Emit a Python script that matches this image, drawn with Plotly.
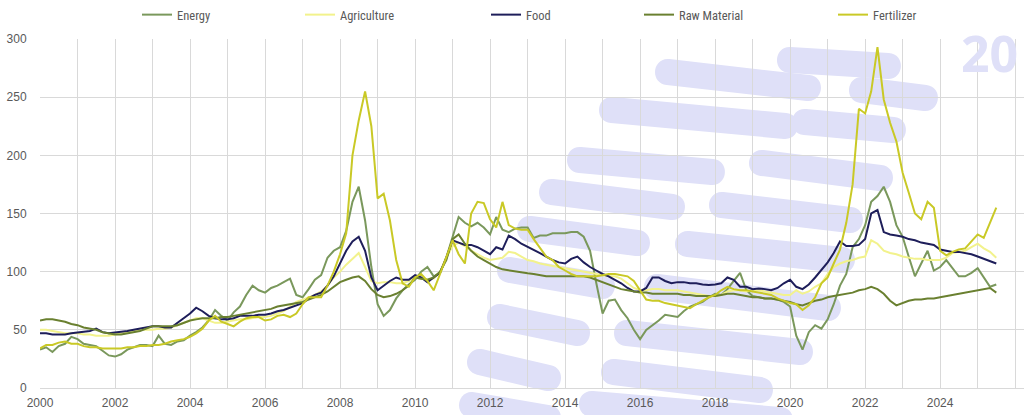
import pandas as pd
import plotly.graph_objects as go

# bimonthly observations, Jan 2000 .. Jul 2025
months = pd.date_range("2000-01-01", "2025-07-01", freq="2MS")

energy = [
    33, 35, 31, 36, 38, 44,
    42, 38, 37, 36, 32, 28,
    27, 29, 33, 35, 37, 37,
    36, 45, 38, 37, 40, 41,
    45, 48, 52, 58, 67, 62,
    58, 65, 70, 80, 88, 84,
    82, 86, 88, 91, 94, 80,
    78, 85, 93, 97, 112, 118,
    121, 135, 160, 173, 144, 104,
    72, 62, 67, 77, 84, 89,
    93, 100, 104, 96, 99, 112,
    130, 147, 142, 139, 142, 138,
    132, 147, 136, 134, 137, 138,
    138, 129, 131, 131, 133, 133,
    133, 134, 134, 130, 118, 90,
    64, 75, 76, 67, 60, 50,
    42, 50, 54, 58, 63, 62,
    61, 66, 70, 72, 74, 78,
    81, 80, 85, 92, 99, 84,
    79, 78, 77, 77, 76, 74,
    70, 45, 33, 48, 54, 51,
    59, 72, 88, 98, 121, 128,
    140, 160, 165, 173, 160, 140,
    130, 113, 96, 107, 118, 101,
    104, 110, 103, 96, 96, 99,
    103, 95, 87, 89,
]

agriculture = [
    50, 50, 49, 48, 47, 47,
    47, 46, 46, 45, 45, 45,
    46, 47, 48, 49, 50, 50,
    50, 51, 51, 52, 54, 56,
    58, 60, 60, 58, 56, 56,
    57, 58, 59, 59, 60, 61,
    61, 62, 64, 66, 70, 74,
    76, 78, 80, 83, 88, 95,
    100, 106, 111, 116, 104, 92,
    90, 91, 91, 90, 90, 92,
    95, 94, 93, 94, 100, 112,
    122, 125, 122, 118, 115, 112,
    110, 111, 112, 117, 116, 113,
    110, 109, 107, 106, 105, 104,
    103, 102, 101, 100, 99, 98,
    97, 96, 96, 94, 90, 86,
    84, 84, 85, 85, 84, 84,
    84, 83, 82, 81, 80, 79,
    79, 80, 83, 84, 84, 83,
    84, 84, 83, 82, 81, 80,
    80, 84, 81, 83, 87, 90,
    98, 104, 107, 109, 110, 112,
    113, 127, 124, 118, 116, 115,
    113, 112, 111, 111, 110, 110,
    110, 112, 116, 117, 118, 121,
    124, 120, 117, 112,
]

food = [
    47, 47, 46, 46, 46, 47,
    47.5, 48, 49, 51, 48, 47,
    47.5, 48, 49, 50, 51, 52,
    53, 53, 52, 52, 56, 60,
    64, 69, 66, 62, 60, 59,
    59, 60, 62, 62, 62, 63,
    63, 64, 66, 67, 69, 71,
    73, 77, 80, 82, 88, 96,
    107, 118, 126, 130, 118, 95,
    84, 88, 92, 95, 93, 93,
    97, 95, 91, 95, 99, 112,
    127, 125, 123, 123, 121, 118,
    115, 121, 119, 131, 128, 124,
    121.5, 119, 116, 113, 110, 108,
    107, 111, 113, 108, 104, 101,
    98, 96, 93, 90, 86, 83,
    83, 86, 95, 95, 92, 90,
    91, 91, 90, 90, 89, 88.6,
    89, 90, 95, 93, 87, 87,
    85, 85.6, 85, 84, 86, 90,
    93, 87, 85, 89, 95, 102,
    108, 116, 126, 122, 122, 123,
    128, 150, 153, 134, 132, 131,
    130, 128, 127, 125, 124, 123,
    119, 118, 117, 117, 116, 115,
    113, 111, 108.6, 107,
]

raw_material = [
    58, 59, 59, 58, 57, 55,
    54, 52, 51, 50, 48, 47,
    46, 46, 47, 48, 49, 51,
    53, 53, 53, 53, 54, 56,
    58, 59, 60, 60, 60, 61,
    61, 62, 63, 64, 65, 66,
    67, 68, 70, 71, 72, 73,
    74, 76, 78, 80, 83, 87,
    91, 93, 95, 96, 92, 85,
    80, 78, 79, 81, 84, 88,
    95, 94, 93, 95, 100, 110,
    128, 132, 124, 118, 113, 110,
    107, 104, 102, 101, 100, 99,
    98.6, 98, 97, 96, 96, 96,
    96, 96, 96, 96, 95, 93,
    91, 89, 87, 85, 84, 83,
    82, 82, 81, 81, 81, 81,
    81, 80, 80, 79, 79, 79,
    79, 80, 81, 81, 80, 79,
    78, 78, 77, 77, 76, 75,
    74, 72, 71, 73, 75, 76,
    78, 79, 80, 81, 82, 84,
    85, 87, 85, 81, 75, 71,
    73, 75, 76, 76, 77, 77,
    78, 79, 80, 81, 82, 83,
    84, 85, 86, 82,
]

fertilizer = [
    34, 37, 37, 39, 40, 38,
    38, 36, 35, 35, 34, 34,
    34, 34, 35, 35, 36, 36,
    37, 37, 38, 40, 41, 42,
    44, 47, 51, 58, 62, 57,
    55, 53, 57, 60, 61, 61,
    58, 59, 62, 63, 61, 64,
    72, 78, 78, 78, 88, 100,
    115, 133, 200, 230, 255, 225,
    163, 167, 144, 110, 90, 87,
    95, 98, 92, 84, 98, 112,
    127, 115, 107, 150, 160, 159,
    145, 138, 160, 140, 137, 136,
    136, 128, 120, 113, 110, 104,
    101, 98, 96, 96, 96, 96,
    97, 98, 98, 97, 96, 92,
    84, 76, 75, 75, 73, 72,
    71, 70, 68.5, 72, 75, 78,
    80, 84, 87, 85, 84, 84,
    83, 82, 81, 80, 77, 75,
    73, 72, 67, 71, 78, 90,
    95, 107, 119, 142, 175, 240,
    236, 255, 293, 248, 228, 212,
    185, 168, 150, 145, 160, 155,
    118, 114, 117, 119, 120, 126,
    132, 129, 142, 155,
]

series = [
    ("Energy", energy, "#7a985c", "legend"),
    ("Agriculture", agriculture, "#f2f28c", "legend2"),
    ("Food", food, "#1e1e5a", "legend3"),
    ("Raw Material", raw_material, "#6a8030", "legend4"),
    ("Fertilizer", fertilizer, "#c9c926", "legend5"),
]

GRID = "#d9d9d9"
TXT = "#595959"
WM = "#dfe0f8"
LEGFONT = dict(family="Liberation Sans Narrow, Roboto Condensed, Liberation Sans, sans-serif",
               size=12.5, color=TXT)

# plot area in pixels (for the decorative watermark only)
PL, PW, PB, PH = 40, 984, 388, 349

# background watermark: rounded slanted bars (pixel centre-lines) - decoration only
wm_bars = [
    (668, 72, 808, 88), (790, 60, 888, 66), (862, 90, 925, 98),
    (612, 110, 785, 126), (805, 122, 893, 130),
    (580, 160, 712, 172), (762, 163, 880, 178),
    (552, 192, 672, 207), (722, 205, 850, 220),
    (530, 229, 637, 243), (688, 244, 842, 260),
    (510, 270, 602, 286), (657, 287, 828, 308),
    (500, 317, 577, 333), (627, 333, 800, 352),
    (480, 362, 548, 378), (614, 372, 760, 390),
    (472, 405, 548, 418), (592, 404, 780, 420),
]


def bar_path(x1, y1, x2, y2, h=13):
    import math
    dx, dy = x2 - x1, y2 - y1
    L = math.hypot(dx, dy)
    ux, uy = dx / L, dy / L
    nx, ny = -uy, ux
    k = 1.33 * h

    def p(px, py):
        return f"{(px - PL) / PW:.5f},{(PB - py) / PH:.5f}"

    a = (x1 + nx * h, y1 + ny * h)
    b = (x2 + nx * h, y2 + ny * h)
    c = (x2 - nx * h, y2 - ny * h)
    d = (x1 - nx * h, y1 - ny * h)
    s = f"M{p(*a)} L{p(*b)} "
    s += f"C{p(b[0] + ux * k, b[1] + uy * k)} {p(c[0] + ux * k, c[1] + uy * k)} {p(*c)} "
    s += f"L{p(*d)} "
    s += f"C{p(d[0] - ux * k, d[1] - uy * k)} {p(a[0] - ux * k, a[1] - uy * k)} {p(*a)} Z"
    return s


shapes = [dict(type="path", xref="paper", yref="paper", path=bar_path(*b),
               fillcolor=WM, line=dict(width=0), layer="below") for b in wm_bars]

fig = go.Figure()
for name, vals, color, leg in series:
    fig.add_trace(go.Scatter(x=months, y=vals, mode="lines", name=name,
                             line=dict(color=color, width=2), legend=leg))

# legend text starts (px): 177, 340, 526, 679, 873
text_starts = [177, 340, 526, 679, 873]
leg_layout = {}
for i, ts in enumerate(text_starts):
    key = "legend" if i == 0 else f"legend{i+1}"
    leg_layout[key] = dict(x=(ts - 40 - PL) / PW, xanchor="left", y=1 + (39 - 15) / PH,
                           yanchor="middle", orientation="h", font=LEGFONT,
                           bgcolor="rgba(0,0,0,0)", itemwidth=30)

fig.update_layout(
    width=1024, height=415,
    margin=dict(l=40, r=0, t=39, b=27, autoexpand=False),
    paper_bgcolor="white", plot_bgcolor="white",
    font=dict(family="Liberation Sans, Arial, sans-serif", size=12, color=TXT),
    showlegend=True,
    shapes=shapes,
    annotations=[dict(text="<b>20</b>", xref="paper", yref="paper",
                      x=(1020 - PL) / PW, y=(388 - 53) / PH, xanchor="right", yanchor="middle",
                      showarrow=False,
                      font=dict(family="Noto Sans, sans-serif", size=50, color=WM))],
    **leg_layout,
)
fig.update_xaxes(
    type="date", range=["2000-01-01", "2026-03-28"],
    tick0="2000-01-01", dtick="M24", tickformat="%Y",
    showgrid=True, gridcolor=GRID, gridwidth=1,
    minor=dict(dtick="M12", tick0="2000-01-01", showgrid=True, gridcolor=GRID, gridwidth=1),
    ticks="outside", ticklen=4, tickcolor="rgba(0,0,0,0)",
    showline=False, zeroline=False,
    tickfont=dict(size=12, color=TXT),
)
fig.update_yaxes(
    range=[0, 300], dtick=50, tick0=0,
    showgrid=True, gridcolor=GRID, gridwidth=1,
    zeroline=True, zerolinecolor=GRID, zerolinewidth=1,
    ticks="outside", ticklen=10, tickcolor="rgba(0,0,0,0)",
    showline=False,
    tickfont=dict(size=12, color=TXT),
)

fig.write_html("out.html")
